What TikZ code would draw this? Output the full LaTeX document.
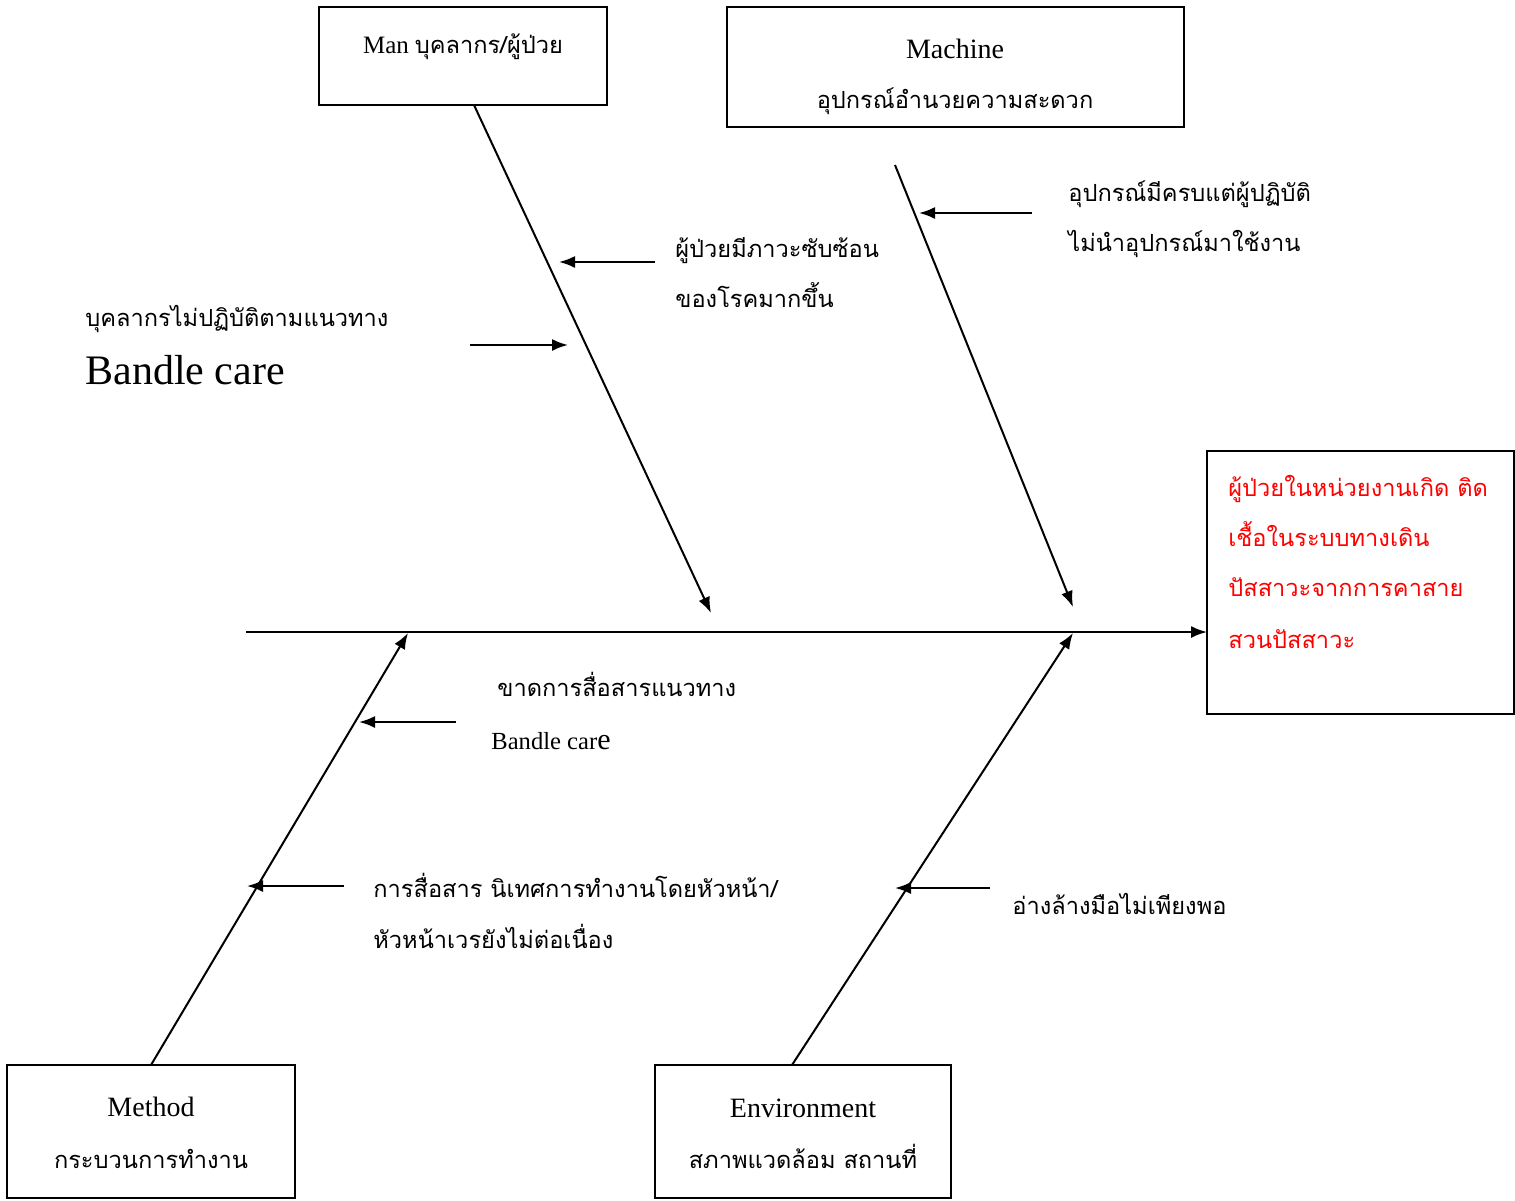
\documentclass[tikz,border=0pt]{standalone}
\usepackage{fontspec}
\setmainfont{Liberation Serif}
\newfontfamily\thfont[Script=Thai]{Loma}
\usetikzlibrary{arrows.meta}
\tikzset{
  box/.style={draw,line width=1pt},
  bone/.style={line width=1pt,-{Latex[length=8pt,width=6pt]}},
  txt/.style={anchor=base west,inner sep=0pt,font=\fontsize{11.8}{13}\selectfont},
  ctxt/.style={anchor=base,inner sep=0pt,font=\fontsize{11.8}{13}\selectfont},
  big/.style={font=\fontsize{14}{16}\selectfont},
}
\begin{document}
\begin{tikzpicture}[x=0.5pt,y=-0.5pt]
\useasboundingbox (0,0) rectangle (1515,1200);
% boxes
\draw[box] (319,7) rectangle (607,105);
\draw[box] (727,7) rectangle (1184,127);
\draw[box] (1207,451) rectangle (1514,714);
\draw[box] (7,1065) rectangle (295,1198);
\draw[box] (655,1065) rectangle (951,1198);
% box texts
\node[ctxt] (mantxt) at (463,53) {{\fontsize{12.5}{14}\selectfont Man} {\thfont บุคลากร/ผู้ป่วย}};
\node[ctxt,big] (mach1) at (955,58) {Machine};
\node[ctxt] (mach2) at (955,108) {\thfont อุปกรณ์อำนวยความสะดวก};
\node[ctxt,big] (meth1) at (151,1116) {Method};
\node[ctxt] (meth2) at (151,1168) {\thfont กระบวนการทำงาน};
\node[ctxt,big] (env1) at (803,1117) {Environment};
\node[ctxt] (env2) at (803,1168) {\thfont สภาพแวดล้อม สถานที่};
% effect text
\node[txt,text=red] (e1) at (1228,496) {\thfont ผู้ป่วยในหน่วยงานเกิด ติด};
\node[txt,text=red] (e2) at (1228,546) {\thfont เชื้อในระบบทางเดิน};
\node[txt,text=red] (e3) at (1228,596) {\thfont ปัสสาวะจากการคาสาย};
\node[txt,text=red] (e4) at (1228,648) {\thfont สวนปัสสาวะ};
% coordinates of bones
\coordinate (spS) at (246,632);
\coordinate (spE) at (1207,632);
\coordinate (manS) at (474,105);
\coordinate (manE) at (711,613);
\coordinate (macS) at (895,165);
\coordinate (macE) at (1073,607);
\coordinate (metS) at (151,1065);
\coordinate (metE) at (408,633);
\coordinate (envS) at (792,1065);
\coordinate (envE) at (1073,633);
\draw[bone] (spS) -- (spE);
\draw[bone] (manS) -- (manE);
\draw[bone] (macS) -- (macE);
\draw[bone] (metS) -- (metE);
\draw[bone] (envS) -- (envE);
% small arrows
\coordinate (a1s) at (655,262); \coordinate (a1e) at (559,262);
\coordinate (a2s) at (470,345); \coordinate (a2e) at (568,345);
\coordinate (a3s) at (1032,213); \coordinate (a3e) at (919,213);
\coordinate (a4s) at (456,722); \coordinate (a4e) at (359,722);
\coordinate (a5s) at (344,886); \coordinate (a5e) at (247,886);
\coordinate (a6s) at (990,888); \coordinate (a6e) at (895,888);
\foreach \i in {1,...,6} \draw[bone] (a\i s) -- (a\i e);
% cause texts
\node[txt] (c1) at (675,257) {\thfont ผู้ป่วยมีภาวะซับซ้อน};
\node[txt] (c2) at (675,307) {\thfont ของโรคมากขึ้น};
\node[txt] (c3) at (1068,201) {\thfont อุปกรณ์มีครบแต่ผู้ปฏิบัติ};
\node[txt] (c4) at (1068,251) {\thfont ไม่นำอุปกรณ์มาใช้งาน};
\node[txt] (c5) at (85,326) {\thfont บุคลากรไม่ปฏิบัติตามแนวทาง};
\node[txt,font=\fontsize{21}{23}\selectfont] (c6) at (85,384) {Bandle care};
\node[txt] (c7) at (497,696) {\thfont ขาดการสื่อสารแนวทาง};
\node[txt,font=\fontsize{12.3}{14}\selectfont] (c8) at (491,749) {Bandle car{\fontsize{15}{16}\selectfont e}};
\node[txt] (c9) at (373,897) {\thfont การสื่อสาร นิเทศการทำงานโดยหัวหน้า/};
\node[txt] (c10) at (373,948) {\thfont หัวหน้าเวรยังไม่ต่อเนื่อง};
\node[txt] (c11) at (1012,914) {\thfont อ่างล้างมือไม่เพียงพอ};
\end{tikzpicture}
\end{document}
